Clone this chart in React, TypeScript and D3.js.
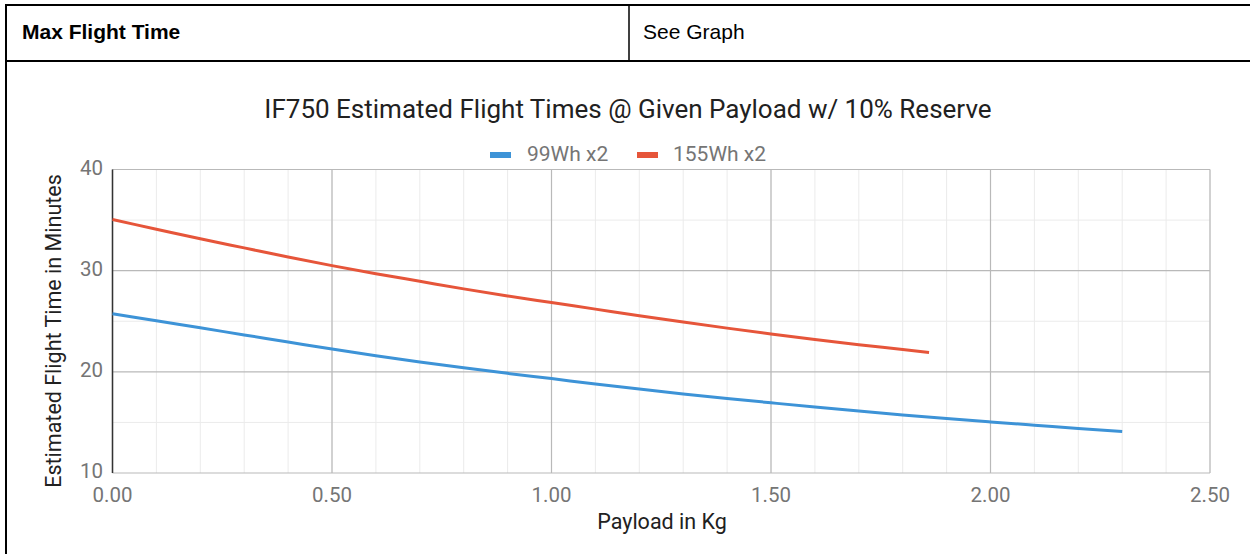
import React from "react";
import * as d3 from "d3";

const payload99 = [0, 0.1, 0.2, 0.3, 0.4, 0.5, 0.6, 0.7, 0.8, 0.9, 1.0, 1.1, 1.2, 1.3, 1.4, 1.5, 1.6, 1.7, 1.8, 1.9, 2.0, 2.1, 2.2, 2.3];
const time99 = [25.75, 25.05, 24.35, 23.65, 22.95, 22.25, 21.6, 20.98, 20.4, 19.85, 19.33, 18.8, 18.3, 17.82, 17.37, 16.94, 16.52, 16.12, 15.74, 15.38, 15.05, 14.73, 14.41, 14.1];
const payload155 = [0, 0.1, 0.2, 0.3, 0.4, 0.5, 0.6, 0.7, 0.8, 0.9, 1.0, 1.1, 1.2, 1.3, 1.4, 1.5, 1.6, 1.7, 1.8, 1.86];
const time155 = [35.05, 34.1, 33.15, 32.25, 31.35, 30.5, 29.7, 28.95, 28.2, 27.5, 26.85, 26.2, 25.55, 24.92, 24.32, 23.75, 23.2, 22.68, 22.2, 21.9];

const seriesNames = ["99Wh x2", "155Wh x2"];
const seriesColors = ["#3d93d7", "#e6553a"];
const xMajorTicks = [0, 0.5, 1.0, 1.5, 2.0, 2.5];
const yMajorTicks = [10, 20, 30, 40];
const xMinorTicks = d3.range(0, 2.5001, 0.1);
const yMinorTicks = [15, 25, 35];

const title = "IF750 Estimated Flight Times @ Given Payload w/ 10% Reserve";
const xTitle = "Payload in Kg";
const yTitle = "Estimated Flight Time in Minutes";
const tableLeft = "Max Flight Time";
const tableRight = "See Graph";

export default function App() {
  const W = 1250, H = 554;
  const x = d3.scaleLinear().domain([0, 2.5]).range([112.5, 1210]);
  const y = d3.scaleLinear().domain([10, 40]).range([473, 169.5]);
  const line = d3
    .line<[number, number]>()
    .x((d) => x(d[0]))
    .y((d) => y(d[1]))
    .curve(d3.curveMonotoneX);
  const s99 = payload99.map((p, i) => [p, time99[i]] as [number, number]);
  const s155 = payload155.map((p, i) => [p, time155[i]] as [number, number]);
  const chartFont = "Roboto, Arial, sans-serif";
  const tableFont = "'Liberation Sans', Arial, sans-serif";

  return (
    <svg width={W} height={H} style={{ position: "absolute", left: 0, top: 0, background: "#fff" }}>
      <rect x={0} y={0} width={W} height={H} fill="#fff" />
      {/* table */}
      <line x1={6} x2={W} y1={5} y2={5} stroke="#000" strokeWidth={2} />
      <line x1={6} x2={W} y1={61} y2={61} stroke="#000" strokeWidth={2} />
      <line x1={6} x2={6} y1={4} y2={H} stroke="#000" strokeWidth={2} />
      <line x1={629} x2={629} y1={5} y2={61} stroke="#000" strokeWidth={1.5} />
      <text x={22} y={33} dominantBaseline="middle" fontFamily={tableFont} fontWeight="bold" fontSize={21} fill="#000">
        {tableLeft}
      </text>
      <text x={643} y={33} dominantBaseline="middle" fontFamily={tableFont} fontSize={21} fill="#000">
        {tableRight}
      </text>

      {/* minor grid */}
      {xMinorTicks.map((t, i) => (
        <line key={"xm" + i} x1={x(t)} x2={x(t)} y1={y(40)} y2={y(10)} stroke="#ebebeb" strokeWidth={1} />
      ))}
      {yMinorTicks.map((t) => (
        <line key={"ym" + t} x1={x(0)} x2={x(2.5)} y1={y(t)} y2={y(t)} stroke="#ebebeb" strokeWidth={1} />
      ))}
      {/* major grid */}
      {xMajorTicks.map((t) => (
        <line key={"xM" + t} x1={x(t)} x2={x(t)} y1={y(40)} y2={y(10)} stroke="#b9b9b9" strokeWidth={1.2} />
      ))}
      {yMajorTicks.map((t) => (
        <line key={"yM" + t} x1={x(0)} x2={x(2.5)} y1={y(t)} y2={y(t)} stroke="#b9b9b9" strokeWidth={1.2} />
      ))}
      <line x1={x(0)} x2={x(0)} y1={y(40)} y2={y(10)} stroke="#333" strokeWidth={1.5} />

      {/* series */}
      <path d={line(s99) || ""} fill="none" stroke={seriesColors[0]} strokeWidth={3} />
      <path d={line(s155) || ""} fill="none" stroke={seriesColors[1]} strokeWidth={3} />

      {/* tick labels */}
      {xMajorTicks.map((t) => (
        <text key={"xl" + t} x={x(t)} y={497} textAnchor="middle" dominantBaseline="middle" fontFamily={chartFont} fontSize={20.5} fill="#757575">
          {d3.format(".2f")(t)}
        </text>
      ))}
      {yMajorTicks.map((t) => (
        <text key={"yl" + t} x={103} y={y(t)} textAnchor="end" dominantBaseline="middle" fontFamily={chartFont} fontSize={20.5} fill="#757575">
          {t}
        </text>
      ))}

      {/* titles */}
      <text x={628} y={111} textAnchor="middle" dominantBaseline="middle" fontFamily={chartFont} fontSize={26} fill="#212121">
        {title}
      </text>
      <text x={662} y={523} textAnchor="middle" dominantBaseline="middle" fontFamily={chartFont} fontSize={21.5} fill="#212121">
        {xTitle}
      </text>
      <text
        transform={`translate(55,${331}) rotate(-90)`}
        textAnchor="middle"
        dominantBaseline="middle"
        fontFamily={chartFont}
        fontSize={21.5}
        fill="#212121"
      >
        {yTitle}
      </text>

      {/* legend */}
      <rect x={490} y={152} width={21} height={6} fill={seriesColors[0]} />
      <text x={527} y={155} dominantBaseline="middle" fontFamily={chartFont} fontSize={21} fill="#757575">
        {seriesNames[0]}
      </text>
      <rect x={637} y={152} width={21} height={6} fill={seriesColors[1]} />
      <text x={673} y={155} dominantBaseline="middle" fontFamily={chartFont} fontSize={21} fill="#757575">
        {seriesNames[1]}
      </text>
    </svg>
  );
}
